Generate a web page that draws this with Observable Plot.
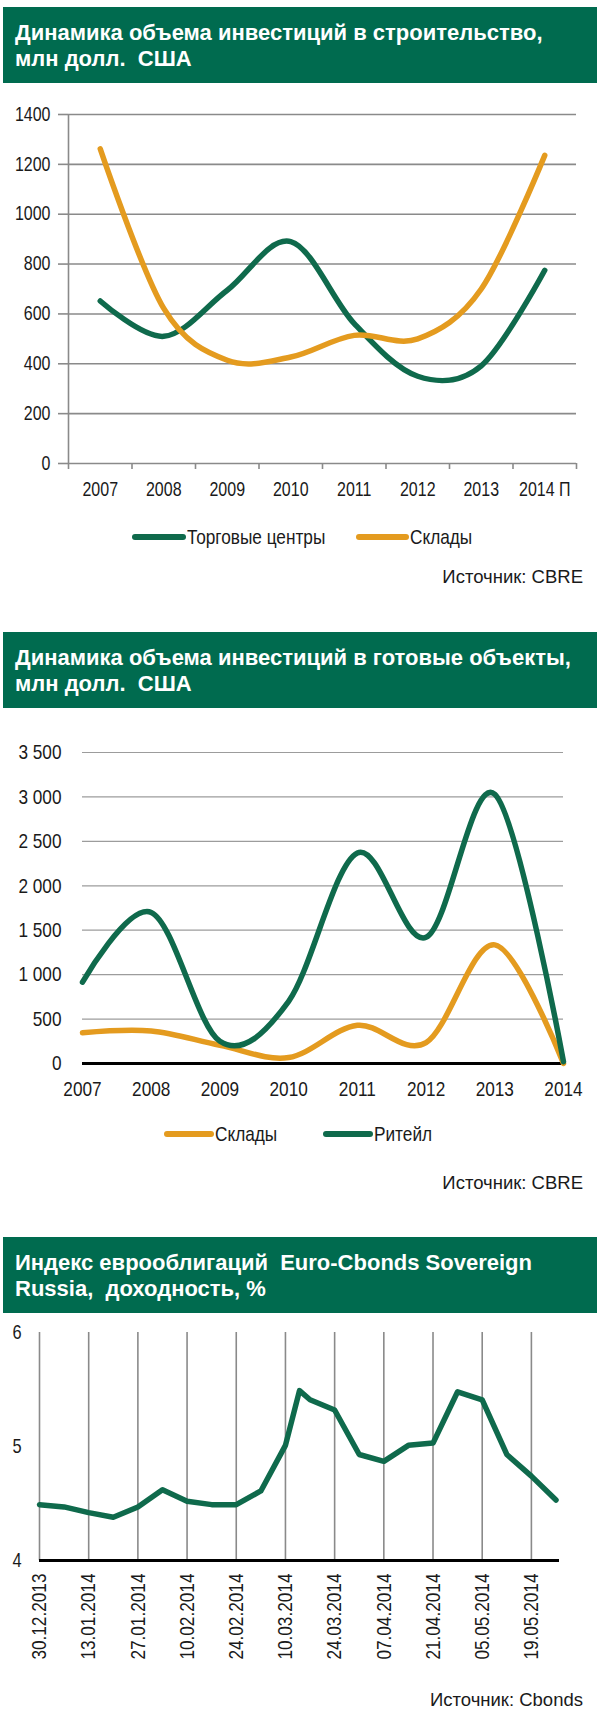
<!DOCTYPE html>
<html lang="ru">
<head>
<meta charset="utf-8">
<title>Инвестиции и еврооблигации</title>
<script src="https://cdn.jsdelivr.net/npm/d3@7"></script>
<script src="https://cdn.jsdelivr.net/npm/@observablehq/plot@0.6"></script>
<style>
  html,body{margin:0;padding:0;background:#fff;}
  #root{position:relative;width:600px;height:1717px;overflow:hidden;font-family:"Liberation Sans",Arial,sans-serif;color:#1a1a1a;}
  .banner{position:absolute;left:3px;width:594px;height:76px;background:#006b4f;color:#fff;font-weight:bold;font-size:22px;line-height:26px;padding:13px 0 0 12px;box-sizing:border-box;white-space:nowrap;}
  .chart{position:absolute;left:0;}
  .sw{position:absolute;height:6px;border-radius:3px;}
  .lt{position:absolute;font-size:21px;line-height:24px;white-space:nowrap;transform:scaleX(0.82);transform-origin:0 50%;}
  .src{position:absolute;right:17px;font-size:18.5px;line-height:20px;white-space:nowrap;}
</style>
</head>
<body>
<div id="root"></div>
<script>
// ---------- data ----------
const years1 = ["2007", "2008", "2009", "2010", "2011", "2012", "2013", "2014 П"];
const malls1 = [652, 510, 695, 890, 561, 350, 392, 775];          // Торговые центры
const warehouses1 = [1262, 622, 414, 427, 514, 500, 700, 1236];   // Склады
const yTicks1 = [0, 200, 400, 600, 800, 1000, 1200, 1400];

const years2 = ["2007", "2008", "2009", "2010", "2011", "2012", "2013", "2014"];
const warehouses2 = [347, 366, 205, 67, 430, 235, 1335, 0];       // Склады
const retail2 = [915, 1700, 250, 700, 2370, 1420, 3030, 20];      // Ритейл
const yTicks2 = [0, 500, 1000, 1500, 2000, 2500, 3000, 3500];

const dates3 = ["30.12.2013", "06.01.2014", "13.01.2014", "20.01.2014", "27.01.2014", "03.02.2014",
  "10.02.2014", "17.02.2014", "24.02.2014", "03.03.2014", "10.03.2014", "14.03.2014", "17.03.2014",
  "24.03.2014", "31.03.2014", "07.04.2014", "14.04.2014", "21.04.2014", "28.04.2014", "05.05.2014",
  "12.05.2014", "19.05.2014", "26.05.2014"];
const yield3 = [4.49, 4.47, 4.42, 4.38, 4.47, 4.62, 4.52, 4.49, 4.49, 4.61, 5.01, 5.49, 5.41,
  5.32, 4.93, 4.87, 5.01, 5.03, 5.48, 5.41, 4.93, 4.74, 4.53];
const dateTicks3 = ["30.12.2013", "13.01.2014", "27.01.2014", "10.02.2014", "24.02.2014", "10.03.2014",
  "24.03.2014", "07.04.2014", "21.04.2014", "05.05.2014", "19.05.2014"];
const xEnd3 = "27.05.2014";
const yTicks3 = [4, 5, 6];

// ---------- styles ----------
const GREEN = "#0f6a4c", ORANGE = "#e49b1f", GRID = "#8a8a8a", INK = "#1a1a1a";
const FONT = '"Liberation Sans",Arial,sans-serif';
const NARROW_K = 0.82; // horizontal condensing, to imitate Arial Narrow
const root = document.getElementById("root");

function banner(lines, top) {
  const d = document.createElement("div");
  d.className = "banner";
  d.style.top = top + "px";
  d.innerHTML = lines.join("<br>");
  root.appendChild(d);
}
function condense(svg) {
  d3.select(svg).selectAll("text").each(function () {
    const x = this.getAttribute("x");
    if (x !== null && !isNaN(+x)) this.setAttribute("x", +x / NARROW_K);
    const t = this.getAttribute("transform") || "";
    this.setAttribute("transform", (t + ` scale(${NARROW_K},1)`).trim());
  });
}
function addChart(svg, top) {
  condense(svg);
  svg.classList.add("chart");
  svg.style.top = top + "px";
  root.appendChild(svg);
}
function legendItem(x1, x2, color, label, cy) {
  const s = document.createElement("div");
  s.className = "sw";
  s.style.left = x1 + "px"; s.style.width = (x2 - x1) + "px";
  s.style.top = (cy - 3) + "px"; s.style.background = color;
  root.appendChild(s);
  const t = document.createElement("div");
  t.className = "lt";
  t.style.left = (x2 + 1) + "px"; t.style.top = (cy - 12) + "px";
  t.textContent = label;
  root.appendChild(t);
}
function source(text, cy) {
  const d = document.createElement("div");
  d.className = "src";
  d.style.top = (cy - 10) + "px";
  d.textContent = text;
  root.appendChild(d);
}
const baseStyle = (fs) => ({fontFamily: FONT, fontSize: fs, color: INK, background: "transparent", overflow: "visible"});
const lineOpts = {strokeWidth: 5.5, curve: "cardinal", tension: 0, strokeLinecap: "round", strokeLinejoin: "round"};

// ---------- chart 1 ----------
banner(["Динамика объема инвестиций в строительство,", "млн долл.&nbsp; США"], 7);
const idx1 = years1.map((d, i) => i);
const bounds1 = d3.range(years1.length + 1).map(i => i - 0.5);
addChart(Plot.plot({
  width: 600, height: 410, marginTop: 19, marginBottom: 42, marginLeft: 68, marginRight: 24,
  style: baseStyle("19.5px"),
  x: {type: "linear", domain: [-0.5, years1.length - 0.5]},
  y: {domain: [0, 1400]},
  marks: [
    Plot.ruleY(yTicks1, {stroke: GRID, strokeWidth: 1.6}),
    Plot.ruleX([-0.5], {stroke: GRID, strokeWidth: 1.6}),
    Plot.axisY({ticks: yTicks1, tickSize: 10, tickPadding: 8, tickFormat: d => String(d), stroke: GRID, strokeWidth: 1.6, fill: INK, label: null}),
    Plot.axisX({ticks: bounds1, tickSize: 6, tickFormat: () => "", stroke: GRID, strokeWidth: 1.6, label: null}),
    Plot.axisX({ticks: idx1, tickSize: 0, tickPadding: 19, tickFormat: i => years1[i], fill: INK, label: null}),
    Plot.line(idx1, {x: i => i, y: i => malls1[i], stroke: GREEN, ...lineOpts}),
    Plot.line(idx1, {x: i => i, y: i => warehouses1[i], stroke: ORANGE, ...lineOpts})
  ]
}), 95);
legendItem(132, 186, GREEN, "Торговые центры", 537);
legendItem(356, 409, ORANGE, "Склады", 537);
source("Источник: CBRE", 577);

// ---------- chart 2 ----------
banner(["Динамика объема инвестиций в готовые объекты,", "млн долл.&nbsp; США"], 632);
const idx2 = years2.map((d, i) => i);
const fmt2 = d => d3.format(",")(d).replace(/,/g, "\u00a0");
addChart(Plot.plot({
  width: 600, height: 385, marginTop: 27, marginBottom: 47, marginLeft: 82, marginRight: 37,
  style: baseStyle("21px"),
  x: {type: "linear", domain: [0, years2.length - 1]},
  y: {domain: [0, 3500]},
  marks: [
    Plot.ruleY(yTicks2.filter(d => d > 0), {stroke: "#9c9c9c", strokeWidth: 1.2}),
    Plot.ruleY([0], {stroke: "#000", strokeWidth: 3}),
    Plot.axisY({ticks: yTicks2, tickSize: 0, tickPadding: 21, tickFormat: fmt2, fill: INK, label: null}),
    Plot.axisX({ticks: idx2, tickSize: 0, tickPadding: 18, tickFormat: i => years2[i], fill: INK, label: null}),
    Plot.line(idx2, {x: i => i, y: i => warehouses2[i], stroke: ORANGE, ...lineOpts}),
    Plot.line(idx2, {x: i => i, y: i => retail2[i], stroke: GREEN, ...lineOpts})
  ]
}), 725);
legendItem(164, 214, ORANGE, "Склады", 1134);
legendItem(323, 373, GREEN, "Ритейл", 1134);
source("Источник: CBRE", 1183);

// ---------- chart 3 ----------
banner(["Индекс еврооблигаций&nbsp; Euro-Cbonds Sovereign", "Russia,&nbsp; доходность, %"], 1237);
const parse = d3.utcParse("%d.%m.%Y");
const pts3 = dates3.map((d, i) => ({date: parse(d), v: yield3[i]}));
const ticks3 = dateTicks3.map(parse);
addChart(Plot.plot({
  width: 600, height: 355, marginTop: 17, marginBottom: 110, marginLeft: 39, marginRight: 41,
  style: baseStyle("21px"),
  x: {type: "utc", domain: [parse(dates3[0]), parse(xEnd3)]},
  y: {domain: [4, 6]},
  marks: [
    Plot.ruleX(ticks3, {stroke: GRID, strokeWidth: 1.6}),
    Plot.ruleY([4], {stroke: "#000", strokeWidth: 3}),
    Plot.axisY({ticks: yTicks3, tickSize: 0, tickPadding: 18, tickFormat: d => String(d), fill: INK, label: null, fontSize: 20}),
    Plot.axisX({ticks: ticks3, tickSize: 0, tickPadding: 13, tickRotate: -90, tickFormat: d3.utcFormat("%d.%m.%Y"), fill: INK, label: null}),
    Plot.line(pts3, {x: "date", y: "v", stroke: GREEN, strokeWidth: 5.5, strokeLinejoin: "round", strokeLinecap: "round"})
  ]
}), 1315);
source("Источник: Cbonds", 1700);
</script>
</body>
</html>
